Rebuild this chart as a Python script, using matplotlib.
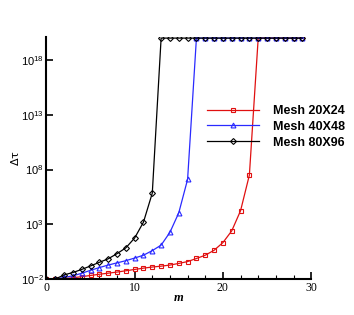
import numpy as np
import matplotlib.pyplot as plt
from matplotlib.ticker import FixedLocator, MultipleLocator

m = np.arange(30)

# log10 of delta tau (1e20 = blown up)
log_20x24 = [-2, -2, -1.95, -1.88, -1.78, -1.67, -1.56, -1.46, -1.36, -1.24,
             -1.12, -1.0, -0.9, -0.82, -0.72, -0.57, -0.4, -0.12, 0.18, 0.63,
             1.33, 2.4, 4.24, 7.5, 20, 20, 20, 20, 20, 20]
log_40x48 = [-2, -2, -1.85, -1.7, -1.47, -1.2, -0.95, -0.72, -0.52, -0.32,
             -0.08, 0.18, 0.6, 1.1, 2.27, 4.05, 7.1, 20, 20, 20,
             20, 20, 20, 20, 20, 20, 20, 20, 20, 20]
log_80x96 = [-2, -2, -1.62, -1.4, -1.12, -0.8, -0.47, -0.15, 0.32, 0.85,
             1.75, 3.2, 5.85, 20, 20, 20, 20, 20, 20, 20,
             20, 20, 20, 20, 20, 20, 20, 20, 20, 20]

labels = ['Mesh 20X24', 'Mesh 40X48', 'Mesh 80X96']
ytick_exp = [-2, 3, 8, 13, 18]

plt.rcParams['mathtext.default'] = 'regular'

fig = plt.figure(figsize=(3.54, 3.15), dpi=100)
ax = fig.add_axes([0.131, 0.114, 0.748, 0.769])

ax.plot(m, 10.0 ** np.array(log_20x24), color='#e01010', lw=0.9, marker='s',
        ms=3.3, mfc='none', mew=0.8, label=labels[0])
ax.plot(m, 10.0 ** np.array(log_40x48), color='#2a2aff', lw=0.9, marker='^',
        ms=3.5, mfc='none', mew=0.8, label=labels[1])
ax.plot(m, 10.0 ** np.array(log_80x96), color='black', lw=0.9, marker='D',
        ms=3.0, mfc='none', mew=0.8, label=labels[2])

ax.set_yscale('log')
ax.set_xlim(0, 30)
ax.set_ylim(1e-2, 1.3e20)

ax.spines['top'].set_visible(False)
ax.spines['right'].set_visible(False)
ax.spines['left'].set_linewidth(1.5)
ax.spines['bottom'].set_linewidth(1.5)

ax.xaxis.set_major_locator(MultipleLocator(10))
ax.xaxis.set_minor_locator(MultipleLocator(2))
ax.yaxis.set_major_locator(FixedLocator([10.0 ** e for e in ytick_exp]))
ax.yaxis.set_minor_locator(FixedLocator([]))
ax.set_yticklabels([r'$10^{%d}$' % e for e in ytick_exp],
                   family='Liberation Sans', fontsize=8)
for t in ax.get_xticklabels():
    t.set_family('Liberation Serif')
    t.set_fontsize(8.5)

ax.tick_params(which='major', direction='in', length=5, width=1.2, pad=2)
ax.tick_params(which='minor', direction='in', length=3, width=0.8)

ax.set_xlabel('m', family='Liberation Serif', style='italic', weight='bold',
              fontsize=9, labelpad=-1)
ax.set_ylabel(r'$\Delta\tau$', fontsize=8, labelpad=0)

leg = ax.legend(loc='upper left', bbox_to_anchor=(0.564, 0.765),
                frameon=False, handlelength=4.2, handletextpad=1.1,
                labelspacing=0.3, prop={'family': 'Liberation Sans',
                                        'weight': 'bold', 'size': 9})

fig.savefig('out.png', dpi=100)
